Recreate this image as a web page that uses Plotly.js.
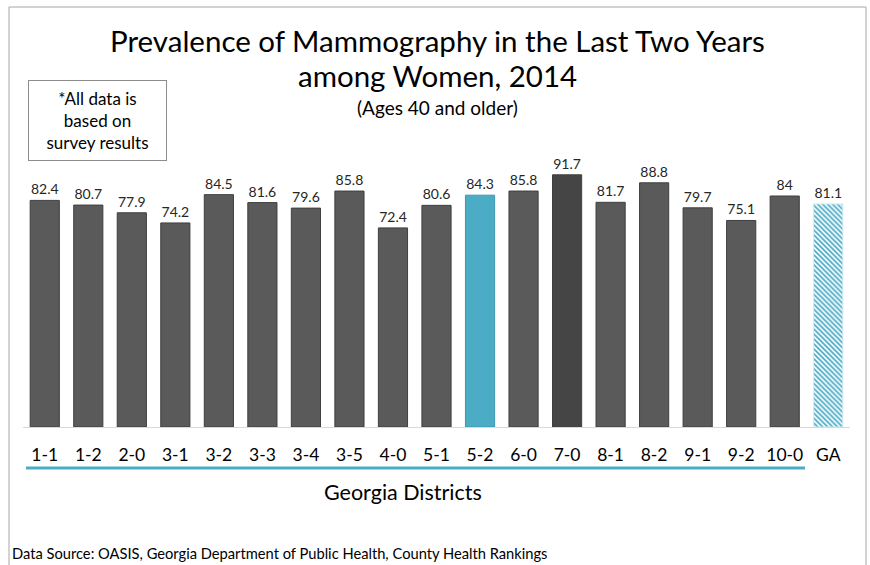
<!DOCTYPE html>
<html>
<head>
<meta charset="utf-8">
<script src="https://cdn.plot.ly/plotly-3.0.1.min.js"></script>
<style>html,body{margin:0;padding:0;background:#fff;}#chart{width:870px;height:565px;}</style>
</head>
<body>
<div id="chart"></div>
<script>
var categories = ["1-1","1-2","2-0","3-1","3-2","3-3","3-4","3-5","4-0","5-1","5-2","6-0","7-0","8-1","8-2","9-1","9-2","10-0","GA"];
var values = [82.4,80.7,77.9,74.2,84.5,81.6,79.6,85.8,72.4,80.6,84.3,85.8,91.7,81.7,88.8,79.7,75.1,84,81.1];
var valueLabels = ["82.4","80.7","77.9","74.2","84.5","81.6","79.6","85.8","72.4","80.6","84.3","85.8","91.7","81.7","88.8","79.7","75.1","84","81.1"];
var stateCategory = "GA";

var W = 870, H = 565;
var FONT = "Lato, 'Open Sans', sans-serif";
var BLUE = "#4bacc6";

// split districts and state
var dX = [], dY = [], dT = [], sX = [], sY = [], sT = [];
categories.forEach(function(c, i){
  if (c === stateCategory) { sX.push(c); sY.push(values[i]); sT.push(valueLabels[i]); }
  else { dX.push(c); dY.push(values[i]); dT.push(valueLabels[i]); }
});

var colors = dX.map(function(c){
  if (c === "5-2") return BLUE;
  if (c === "7-0") return "#454545";
  return "#5a5a5a";
});
var lineColors = dX.map(function(c){
  if (c === "5-2") return "#3d97b0";
  return "#3f3f3f";
});

var textfont = {family: FONT, size: 14, color: "#262626"};

var districts = {
  type: "bar", x: dX, y: dY, text: dT,
  textposition: "outside", textfont: textfont, cliponaxis: false,
  marker: {color: colors, line: {color: lineColors, width: 1}}
};
var state = {
  type: "bar", x: sX, y: sY, text: sT,
  textposition: "outside", textfont: textfont, cliponaxis: false,
  marker: {
    color: "#ffffff",
    line: {color: "#cfeaf2", width: 1},
    pattern: {shape: "\\", fgcolor: BLUE, bgcolor: "#ffffff", size: 3.5, solidity: 0.5}
  }
};

function px(x){ return x / W; }
function py(y){ return 1 - y / H; }

var layout = {
  width: W, height: H,
  margin: {l: 0, r: 0, t: 0, b: 0},
  paper_bgcolor: "#ffffff",
  plot_bgcolor: "#ffffff",
  showlegend: false,
  barmode: "overlay",
  bargap: 0.33,
  xaxis: {
    domain: [px(23), px(850)],
    type: "category",
    categoryorder: "array", categoryarray: categories,
    showline: true, linecolor: "#d9d9d9", linewidth: 1,
    ticks: "outside", ticklen: 12, tickcolor: "rgba(0,0,0,0)",
    tickfont: {family: FONT, size: 17.5, color: "#000000"},
    showgrid: false, zeroline: false, fixedrange: true
  },
  yaxis: {
    domain: [py(427), py(152)],
    range: [0, 100],
    visible: false, showgrid: false, zeroline: false, fixedrange: true
  },
  shapes: [
    {type: "rect", xref: "paper", yref: "paper", x0: px(9), x1: px(866), y0: -0.1, y1: py(7),
     line: {color: "#a6a6a6", width: 1}, fillcolor: "rgba(0,0,0,0)", layer: "below"},
    {type: "line", xref: "paper", yref: "paper", x0: px(26), x1: px(805), y0: py(468), y1: py(468),
     line: {color: BLUE, width: 3}}
  ],
  annotations: [
    {xref: "paper", yref: "paper", x: px(437), y: py(40), xanchor: "center", yanchor: "middle",
     text: "Prevalence of Mammography in the Last Two Years", showarrow: false,
     font: {family: FONT, size: 29.5, color: "#000000"}},
    {xref: "paper", yref: "paper", x: px(437), y: py(76), xanchor: "center", yanchor: "middle",
     text: "among Women, 2014", showarrow: false,
     font: {family: FONT, size: 29.5, color: "#000000"}},
    {xref: "paper", yref: "paper", x: px(437), y: py(108), xanchor: "center", yanchor: "middle",
     text: "(Ages 40 and older)", showarrow: false,
     font: {family: FONT, size: 19, color: "#000000"}},
    {xref: "paper", yref: "paper", x: px(97), y: py(120), xanchor: "center", yanchor: "middle",
     text: "*All data is<br>based on<br>survey results", showarrow: false,
     font: {family: FONT, size: 17, color: "#000000"},
     bordercolor: "#8c8c8c", borderwidth: 1, borderpad: 4, width: 129, height: 71, bgcolor: "#ffffff"},
    {xref: "paper", yref: "paper", x: px(403), y: py(492), xanchor: "center", yanchor: "middle",
     text: "Georgia Districts", showarrow: false,
     font: {family: FONT, size: 21.5, color: "#000000"}},
    {xref: "paper", yref: "paper", x: px(10), y: py(553), xanchor: "left", yanchor: "middle",
     text: "Data Source: OASIS, Georgia Department of Public Health, County Health Rankings", showarrow: false,
     font: {family: FONT, size: 14.7, color: "#000000"}}
  ]
};

Plotly.newPlot("chart", [districts, state], layout, {displayModeBar: false, staticPlot: true});
</script>
</body>
</html>
